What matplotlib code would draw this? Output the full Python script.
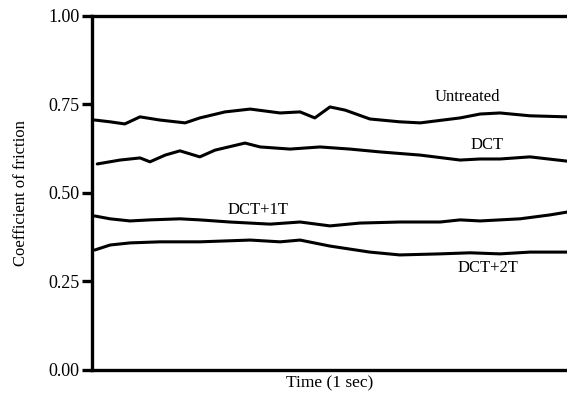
import numpy as np
import matplotlib
matplotlib.use("Agg")
import matplotlib.pyplot as plt

plt.rcParams['font.family'] = ['Liberation Serif', 'DejaVu Serif']

# tiempo normalizado (0 a 1 sec)
t_untreated = [0.006, 0.038, 0.069, 0.101, 0.143, 0.196, 0.227, 0.280, 0.333, 0.396, 0.438,
               0.469, 0.501, 0.533, 0.585, 0.648, 0.691, 0.775, 0.817, 0.859, 0.922, 1.0]
mu_untreated = [0.706, 0.701, 0.695, 0.715, 0.706, 0.698, 0.712, 0.729, 0.737, 0.726, 0.729,
                0.712, 0.743, 0.734, 0.709, 0.701, 0.698, 0.712, 0.723, 0.726, 0.718, 0.715]

t_dct = [0.011, 0.059, 0.101, 0.122, 0.154, 0.185, 0.227, 0.259, 0.322, 0.354, 0.417,
         0.480, 0.543, 0.606, 0.691, 0.775, 0.817, 0.859, 0.922, 1.0]
mu_dct = [0.582, 0.593, 0.599, 0.588, 0.607, 0.619, 0.602, 0.621, 0.641, 0.630, 0.624,
          0.630, 0.624, 0.616, 0.607, 0.593, 0.596, 0.596, 0.602, 0.590]

t_dct1t = [0.006, 0.038, 0.080, 0.122, 0.185, 0.227, 0.290, 0.375, 0.438, 0.501, 0.564,
           0.648, 0.733, 0.775, 0.817, 0.901, 0.964, 1.0]
mu_dct1t = [0.435, 0.427, 0.421, 0.424, 0.427, 0.424, 0.418, 0.412, 0.418, 0.407, 0.415,
            0.418, 0.418, 0.424, 0.421, 0.427, 0.438, 0.446]

t_dct2t = [0.006, 0.038, 0.080, 0.143, 0.227, 0.333, 0.396, 0.438, 0.501, 0.585, 0.648,
           0.733, 0.796, 0.859, 0.922, 1.0]
mu_dct2t = [0.339, 0.353, 0.359, 0.362, 0.362, 0.367, 0.362, 0.367, 0.350, 0.333, 0.325,
            0.328, 0.331, 0.328, 0.333, 0.333]

fig = plt.figure(figsize=(5.67, 3.99), dpi=100)
ax = fig.add_axes([0.1623, 0.0727, 0.8377, 0.8873])

for t, mu in [(t_untreated, mu_untreated), (t_dct, mu_dct), (t_dct1t, mu_dct1t), (t_dct2t, mu_dct2t)]:
    ax.plot(t, mu, color='black', lw=2.2, solid_capstyle='round', solid_joinstyle='round')

ax.text(0.79, 0.771, 'Untreated', fontsize=12, ha='center', va='center')
ax.text(0.832, 0.636, 'DCT', fontsize=12, ha='center', va='center')
ax.text(0.349, 0.452, 'DCT+1T', fontsize=12, ha='center', va='center')
ax.text(0.834, 0.288, 'DCT+2T', fontsize=12, ha='center', va='center')

ax.set_xlim(0, 1)
ax.set_ylim(0, 1)
ax.set_yticks([0, 0.25, 0.5, 0.75, 1.0])
ax.set_yticklabels(['0.00', '0.25', '0.50', '0.75', '1.00'])
ax.set_xticks([])
ax.tick_params(axis='y', length=7, width=2.4, labelsize=13, pad=2)
ax.spines['right'].set_visible(False)
for s in ['left', 'top', 'bottom']:
    ax.spines[s].set_linewidth(2.4)

ax.set_xlabel('Time (1 sec)', fontsize=12.5, labelpad=4)
ax.set_ylabel('Coefficient of friction', fontsize=12, labelpad=14)

fig.savefig('out.png', dpi=100)
